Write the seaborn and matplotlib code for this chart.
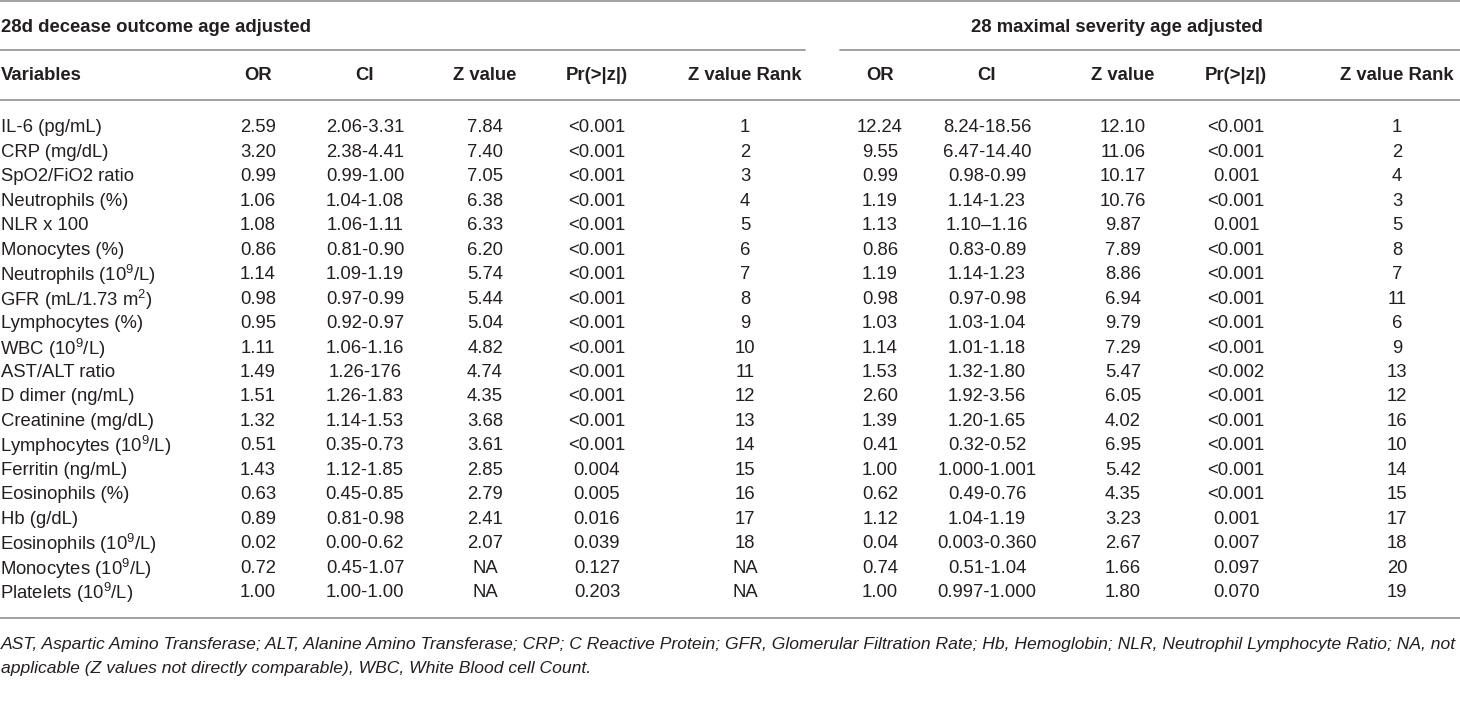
import matplotlib
matplotlib.use("Agg")
import matplotlib.pyplot as plt
import seaborn as sns

sns.set_style("white")
plt.rcParams['font.family'] = ['Liberation Sans Narrow', 'Liberation Sans', 'DejaVu Sans']
plt.rcParams['mathtext.default'] = 'regular'

# Table content
group_titles = ["28d decease outcome age adjusted", "28 maximal severity age adjusted"]
col_headers = ["OR", "CI", "Z value", "Pr(>|z|)", "Z value Rank"]

variables = [
    "IL-6 (pg/mL)", "CRP (mg/dL)", "SpO2/FiO2 ratio", "Neutrophils (%)", "NLR x 100",
    "Monocytes (%)", "Neutrophils (10$^9$/L)", "GFR (mL/1.73 m$^2$)", "Lymphocytes (%)",
    "WBC (10$^9$/L)", "AST/ALT ratio", "D dimer (ng/mL)", "Creatinine (mg/dL)",
    "Lymphocytes (10$^9$/L)", "Ferritin (ng/mL)", "Eosinophils (%)", "Hb (g/dL)",
    "Eosinophils (10$^9$/L)", "Monocytes (10$^9$/L)", "Platelets (10$^9$/L)",
]

# 28d decease outcome
dec_or = ["2.59", "3.20", "0.99", "1.06", "1.08", "0.86", "1.14", "0.98", "0.95", "1.11",
          "1.49", "1.51", "1.32", "0.51", "1.43", "0.63", "0.89", "0.02", "0.72", "1.00"]
dec_ci = ["2.06-3.31", "2.38-4.41", "0.99-1.00", "1.04-1.08", "1.06-1.11", "0.81-0.90",
          "1.09-1.19", "0.97-0.99", "0.92-0.97", "1.06-1.16", "1.26-176", "1.26-1.83",
          "1.14-1.53", "0.35-0.73", "1.12-1.85", "0.45-0.85", "0.81-0.98", "0.00-0.62",
          "0.45-1.07", "1.00-1.00"]
dec_z = ["7.84", "7.40", "7.05", "6.38", "6.33", "6.20", "5.74", "5.44", "5.04", "4.82",
         "4.74", "4.35", "3.68", "3.61", "2.85", "2.79", "2.41", "2.07", "NA", "NA"]
dec_p = ["<0.001"] * 14 + ["0.004", "0.005", "0.016", "0.039", "0.127", "0.203"]
dec_rank = [str(i) for i in range(1, 19)] + ["NA", "NA"]

# 28 maximal severity
sev_or = ["12.24", "9.55", "0.99", "1.19", "1.13", "0.86", "1.19", "0.98", "1.03", "1.14",
          "1.53", "2.60", "1.39", "0.41", "1.00", "0.62", "1.12", "0.04", "0.74", "1.00"]
sev_ci = ["8.24-18.56", "6.47-14.40", "0.98-0.99", "1.14-1.23", "1.10\u20131.16", "0.83-0.89",
          "1.14-1.23", "0.97-0.98", "1.03-1.04", "1.01-1.18", "1.32-1.80", "1.92-3.56",
          "1.20-1.65", "0.32-0.52", "1.000-1.001", "0.49-0.76", "1.04-1.19", "0.003-0.360",
          "0.51-1.04", "0.997-1.000"]
sev_z = ["12.10", "11.06", "10.17", "10.76", "9.87", "7.89", "8.86", "6.94", "9.79", "7.29",
         "5.47", "6.05", "4.02", "6.95", "5.42", "4.35", "3.23", "2.67", "1.66", "1.80"]
sev_p = ["<0.001", "<0.001", "0.001", "<0.001", "0.001", "<0.001", "<0.001", "<0.001",
         "<0.001", "<0.001", "<0.002", "<0.001", "<0.001", "<0.001", "<0.001", "<0.001",
         "0.001", "0.007", "0.097", "0.070"]
sev_rank = ["1", "2", "4", "3", "5", "8", "7", "11", "6", "9", "13", "12", "16", "10",
            "14", "15", "17", "18", "20", "19"]

footnote = [
    "AST, Aspartic Amino Transferase; ALT, Alanine Amino Transferase; CRP; C Reactive Protein; "
    "GFR, Glomerular Filtration Rate; Hb, Hemoglobin; NLR, Neutrophil Lymphocyte Ratio; NA, not",
    "applicable (Z values not directly comparable), WBC, White Blood cell Count.",
]

# Layout (pixel coordinates)
W, H = 1460, 728
txt = "#231f20"
line_c = "#9a9a9a"
fs = 13.3
base = 5.5  # baseline offset from row centre
left_x = [258, 365, 485, 597, 745]
right_x = [880, 987, 1123, 1236, 1397]
row0, dy = 127, 24.45

fig = plt.figure(figsize=(W / 100, H / 100), dpi=100)
ax = fig.add_axes([0, 0, 1, 1])
ax.set_xlim(0, W)
ax.set_ylim(H, 0)
ax.axis("off")

# rules
ax.plot([0, W], [1, 1], color=line_c, lw=1.3)
ax.plot([0, 805], [50, 50], color=line_c, lw=1.3)
ax.plot([840, W], [50, 50], color=line_c, lw=1.3)
ax.plot([0, W], [100, 100], color=line_c, lw=1.3)
ax.plot([0, W], [618, 618], color=line_c, lw=1.3)

# group titles
ax.text(1, 27 + base, group_titles[0], fontsize=fs, fontweight="bold", color=txt, va="baseline", ha="left")
ax.text(1117, 27 + base, group_titles[1], fontsize=fs, fontweight="bold", color=txt, va="baseline", ha="center")

# column headers
ax.text(1, 75 + base, "Variables", fontsize=fs, fontweight="bold", color=txt, va="baseline", ha="left")
for xs in (left_x, right_x):
    for x, h in zip(xs, col_headers):
        ax.text(x, 75 + base, h, fontsize=fs, fontweight="bold", color=txt, va="baseline", ha="center")

# body
for i, var in enumerate(variables):
    y = row0 + i * dy + base
    if "$" in var:
        # mathtext sits a little high and right; nudge it back
        ax.text(0, y + 2, var, fontsize=fs, color=txt, va="baseline", ha="left")
    else:
        ax.text(1, y, var, fontsize=fs, color=txt, va="baseline", ha="left")
    for x, v in zip(left_x, [dec_or[i], dec_ci[i], dec_z[i], dec_p[i], dec_rank[i]]):
        ax.text(x, y, v, fontsize=fs, color=txt, va="baseline", ha="center")
    for x, v in zip(right_x, [sev_or[i], sev_ci[i], sev_z[i], sev_p[i], sev_rank[i]]):
        ax.text(x, y, v, fontsize=fs, color=txt, va="baseline", ha="center")

# footnote
ax.text(1, 643 + base, footnote[0], fontsize=12.6, style="italic", color=txt, va="baseline", ha="left")
ax.text(1, 667 + base, footnote[1], fontsize=12.6, style="italic", color=txt, va="baseline", ha="left")

fig.savefig("out.png", dpi=100)
